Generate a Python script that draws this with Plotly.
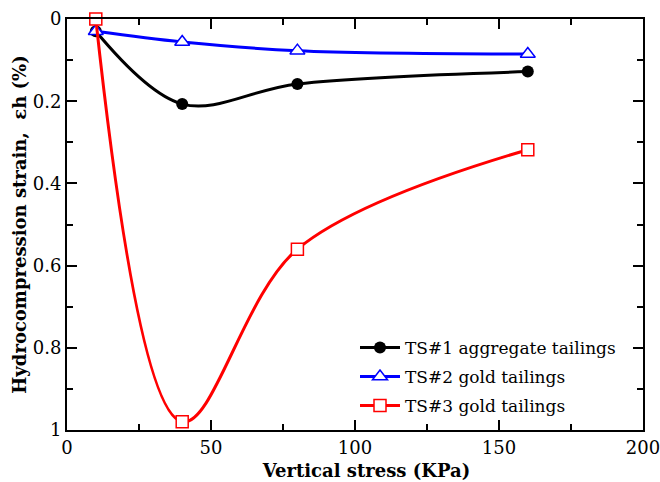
import plotly.graph_objects as go

stress = [10, 40, 80, 160]
ts1 = [0.03, 0.207, 0.158, 0.128]
ts2 = [0.03, 0.056, 0.077, 0.085]
ts3 = [0.0, 0.98, 0.56, 0.318]
names = ["TS#1 aggregate tailings", "TS#2 gold tailings", "TS#3 gold tailings"]

serif = "DejaVu Serif"

fig = go.Figure()
fig.add_trace(go.Scatter(x=stress, y=ts1, name=names[0], mode="lines+markers", legendgroup="a",
                         line=dict(color="black", width=3, shape="spline", smoothing=1),
                         marker=dict(symbol="circle", size=12, color="black"),
                         cliponaxis=False))
fig.add_trace(go.Scatter(x=stress, y=ts2, name=names[1], mode="lines+markers", legendgroup="b",
                         line=dict(color="#0000ff", width=3, shape="spline", smoothing=1),
                         marker=dict(symbol="triangle-up", size=13, color="white",
                                     line=dict(color="#0000ff", width=1.5)),
                         cliponaxis=False))
fig.add_trace(go.Scatter(x=stress, y=ts3, name=names[2], mode="lines+markers", legendgroup="c",
                         line=dict(color="#ff0000", width=3, shape="spline", smoothing=1),
                         marker=dict(symbol="square", size=12, color="white",
                                     line=dict(color="#ff0000", width=1.5)),
                         cliponaxis=False))

axis_common = dict(showline=True, linecolor="black", linewidth=2, mirror="allticks",
                   ticks="inside", ticklen=10, tickwidth=1.5, tickcolor="black",
                   showgrid=False, zeroline=False, automargin=False,
                   ticklabeloverflow="allow",
                   tickfont=dict(family=serif, size=18, color="black"))

fig.update_xaxes(range=[0, 200], dtick=50, tick0=0,
                 minor=dict(ticks="inside", dtick=25, ticklen=6, tickwidth=1.5, tickcolor="black"),
                 title=dict(text="&nbsp;&nbsp;&nbsp;&nbsp;<b>Vertical stress (KPa)</b>", standoff=8,
                            font=dict(family=serif, size=18, color="black")),
                 **axis_common)
fig.update_yaxes(range=[1, 0], dtick=0.2, tick0=0, tickformat="~g",
                 minor=dict(ticks="inside", dtick=0.1, ticklen=6, tickwidth=1.5, tickcolor="black"),
                 title=dict(text="<b>Hydrocompression strain,  εh (%)</b>", standoff=1,
                            font=dict(family=serif, size=18, color="black")),
                 **axis_common)

fig.update_layout(width=660, height=482, plot_bgcolor="white", paper_bgcolor="white",
                  margin=dict(l=67, r=17, t=19, b=52),
                  font=dict(family=serif, color="black"),
                  legend=dict(x=0.5, y=0.015, xanchor="left", yanchor="bottom",
                              bgcolor="rgba(0,0,0,0)", tracegroupgap=4,
                              font=dict(family=serif, size=17, color="black"),
                              itemwidth=40))

fig.write_html("out.html", config={"displayModeBar": False},
               post_script="document.body.style.margin='0';")
